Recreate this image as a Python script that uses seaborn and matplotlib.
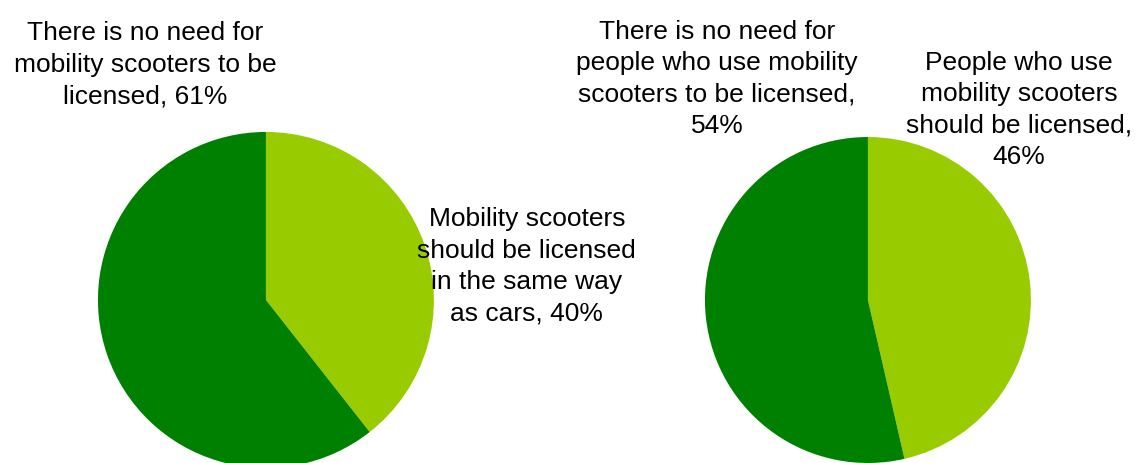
import matplotlib
matplotlib.use("Agg")
import matplotlib.pyplot as plt
import seaborn as sns

# data
cars_labels = ["Mobility scooters\nshould be licensed\nin the same way\nas cars, 40%",
               "There is no need for\nmobility scooters to be\nlicensed, 61%"]
cars_values = [39.4, 60.6]

people_labels = ["People who use\nmobility scooters\nshould be licensed,\n46%",
                 "There is no need for\npeople who use mobility\nscooters to be licensed,\n54%"]
people_values = [46.4, 53.6]

slice_colors = ["#99CC00", "#008000"]

sns.set_theme(style="white")
plt.rcParams['font.family'] = ['Liberation Sans', 'DejaVu Sans']

fig = plt.figure(figsize=(11.35, 4.63), dpi=100)
ax1 = fig.add_axes([0.0863, -0.0108, 0.296, 0.726])
ax2 = fig.add_axes([0.6211, 0.0, 0.2872, 0.7041])

# label offsets relative to pie radius (one per slice)
cars_pos = [(1.553, 0.20), (-0.72, 1.40)]
people_pos = [(0.926, 1.166), (-0.926, 1.356)]

for ax, vals, labs, pos in [(ax1, cars_values, cars_labels, cars_pos),
                            (ax2, people_values, people_labels, people_pos)]:
    ax.pie(vals, colors=slice_colors, startangle=90, counterclock=False,
           wedgeprops=dict(linewidth=0))
    ax.set_xlim(-1, 1)
    ax.set_ylim(-1, 1)
    ax.set_aspect('equal')
    for lab, (x, y) in zip(labs, pos):
        ax.text(x, y, lab, ha='center', va='center', fontsize=19,
                linespacing=1.4, color='black', clip_on=False)

fig.savefig("out.png", dpi=100)
